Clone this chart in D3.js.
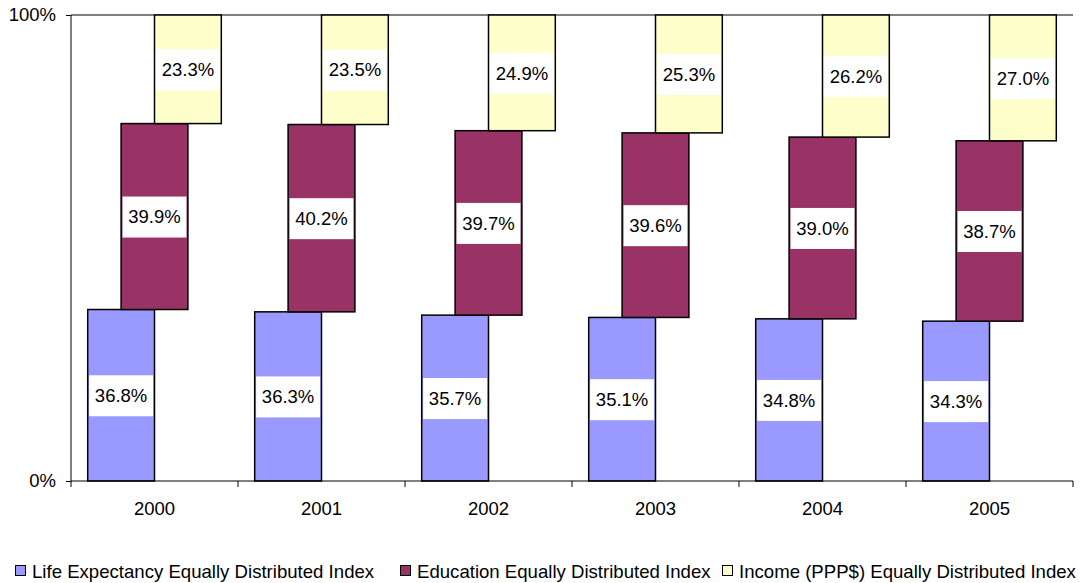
<!DOCTYPE html>
<meta charset="utf-8">
<style>
body { margin: 0; background: #fff; }
text { font-family: "Liberation Sans", Arial, sans-serif; fill: #000; }
</style>
<body>
<script src="https://d3js.org/d3.v7.min.js"></script>
<script>

// data
var years = ["2000", "2001", "2002", "2003", "2004", "2005"];
var lifeExp = [36.8, 36.3, 35.7, 35.1, 34.8, 34.3];
var education = [39.9, 40.2, 39.7, 39.6, 39.0, 38.7];
var income = [23.3, 23.5, 24.9, 25.3, 26.2, 27.0];
var seriesNames = ["Life Expectancy Equally Distributed Index",
                   "Education Equally Distributed Index",
                   "Income (PPP$) Equally Distributed Index"];
var colors = ["#9999ff", "#993366", "#ffffcc"];
var yTicks = [0, 1];

var W = 1082, H = 583;
var margin = {top: 15, right: 9, bottom: 102, left: 71},
    width = W - margin.left - margin.right,
    height = H - margin.top - margin.bottom;

var svg = d3.select("body").append("svg")
    .attr("width", W)
    .attr("height", H);

var g = svg.append("g")
    .attr("transform", `translate(${margin.left},${margin.top})`);

var rows = years.map((y, i) => ({year: y, s0: lifeExp[i], s1: education[i], s2: income[i]}));
var stack = d3.stack().keys(["s0", "s1", "s2"]).offset(d3.stackOffsetExpand);
var layers = stack(rows);

var x = d3.scaleBand().domain(years).range([0, width]).padding(0);
var y = d3.scaleLinear().domain([0, 1]).range([height, 0]);
var bw = x.bandwidth() * 0.4;
// each series shifted sideways inside the category
var offsets = [0.1, 0.3, 0.5];

// top line at 100%
g.append("line")
    .attr("x1", 0).attr("x2", width)
    .attr("y1", y(1)).attr("y2", y(1))
    .attr("stroke", "#000").attr("stroke-width", 1);

layers.forEach(function(layer, si) {
  var lg = g.append("g");
  lg.selectAll("rect")
    .data(layer)
    .join("rect")
      .attr("x", d => x(d.data.year) + x.bandwidth() * offsets[si])
      .attr("y", d => y(d[1]))
      .attr("width", bw)
      .attr("height", d => y(d[0]) - y(d[1]))
      .attr("fill", colors[si])
      .attr("stroke", "#000")
      .attr("stroke-width", 1.5);
});

// data labels in white boxes
layers.forEach(function(layer, si) {
  var vals = [lifeExp, education, income][si];
  layer.forEach(function(d, i) {
    var cx = x(d.data.year) + x.bandwidth() * offsets[si] + bw / 2;
    var cy = (y(d[0]) + y(d[1])) / 2;
    var lbl = g.append("g").attr("transform", `translate(${cx},${cy})`);
    lbl.append("rect")
      .attr("x", -32).attr("y", -20)
      .attr("width", 64).attr("height", 41)
      .attr("fill", "#fff");
    lbl.append("text")
      .attr("text-anchor", "middle")
      .attr("dy", "0.36em")
      .style("font-size", "18.5px")
      .text(vals[i].toFixed(1) + "%");
  });
});

// y axis
var yAxis = g.append("g")
    .call(d3.axisLeft(y).tickValues(yTicks).tickFormat(d3.format(".0%")).tickSize(5).tickPadding(10));
yAxis.select(".domain").attr("stroke", "#000").attr("d", `M0,${height + 0.5}V0`);
yAxis.selectAll("text").style("font-size", "18.5px");

// x axis with ticks at category boundaries
var xAxis = g.append("g")
    .attr("transform", `translate(0,${height})`)
    .call(d3.axisBottom(x).tickSize(0).tickPadding(21));
xAxis.select(".domain").attr("stroke", "#000").attr("d", `M0,0H${width}`);
xAxis.selectAll("text").style("font-size", "18.5px");
var bounds = d3.range(years.length + 1).map(i => i * x.step());
xAxis.selectAll(".bound")
  .data(bounds)
  .join("line")
    .attr("class", "bound")
    .attr("x1", d => d).attr("x2", d => d)
    .attr("y1", 0).attr("y2", 6)
    .attr("stroke", "#000");

// legend
var legendX = [15, 400, 722];
var legend = svg.append("g").attr("transform", `translate(0,571)`);
seriesNames.forEach(function(name, i) {
  var item = legend.append("g").attr("transform", `translate(${legendX[i]},0)`);
  item.append("rect")
    .attr("x", 0.5).attr("y", -5.5)
    .attr("width", 10).attr("height", 10)
    .attr("fill", colors[i])
    .attr("stroke", "#000");
  item.append("text")
    .attr("x", 17)
    .attr("dy", "0.36em")
    .style("font-size", "18.6px")
    .text(name);
});

</script>
</body>
</html>
